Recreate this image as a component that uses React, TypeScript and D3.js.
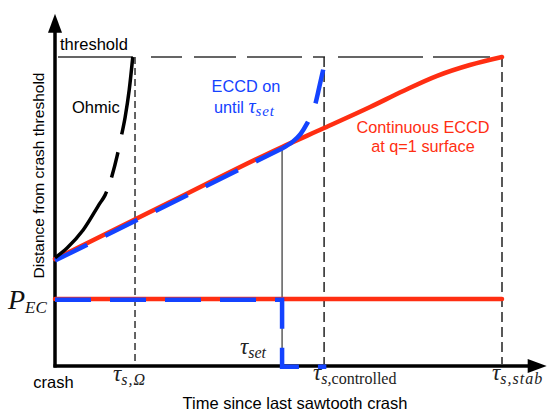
import React from "react";
import * as d3 from "d3";

const W = 549;
const H = 412;

// time axis in units of tau_s,stab, distance axis in units of the threshold
const tauOmega = 0.179;
const tauSet = 0.508;
const tauControlled = 0.602;
const tauStab = 1.0;
const threshold = 1.0;
const pEC = 0.217;

// Ohmic heating only
const ohmicT = [0, 0.027, 0.063, 0.101, 0.112, 0.128, 0.139, 0.148, 0.157, 0.166, 0.174];
const ohmicD = [0.35, 0.382, 0.44, 0.528, 0.553, 0.618, 0.68, 0.741, 0.806, 0.893, 1.0];

// continuous ECCD at q=1 surface
const contT = [0, 0.254, 0.508, 0.602, 0.705, 0.779, 0.855, 0.928, 1.0];
const contD = [0.346, 0.528, 0.709, 0.77, 0.838, 0.89, 0.939, 0.974, 1.0];

// ECCD on until tau_set
const eccdT = [0, 0.508];
const eccdD = [0.346, 0.709];
const eccdOffT = [0.508, 0.532, 0.55, 0.564, 0.575, 0.582, 0.591, 0.6];
const eccdOffD = [0.709, 0.731, 0.757, 0.79, 0.822, 0.851, 0.906, 0.964];

// EC power traces
const powerContT = [0, 1.0];
const powerContP = [pEC, pEC];
const powerSetT = [0, tauSet, tauSet, 0.607];
const powerSetP = [pEC, pEC, 0, 0];

const RED = "#ff2e12";
const BLUE = "#1443ff";
const SANS = "'Liberation Sans', Arial, sans-serif";
const SERIF = "'Liberation Serif', 'Times New Roman', serif";

const zip = (a: number[], b: number[]) => a.map((v, i) => [v, b[i]] as [number, number]);

const App = () => {
  const x = d3.scaleLinear().domain([0, 1.1]).range([55, 546.7]);
  const y = d3.scaleLinear().domain([0, 1.14]).range([366, 13.74]);

  const smooth = d3
    .line<[number, number]>()
    .x((d) => x(d[0]))
    .y((d) => y(d[1]))
    .curve(d3.curveMonotoneX);
  const straight = d3
    .line<[number, number]>()
    .x((d) => x(d[0]))
    .y((d) => y(d[1]));

  const x0 = x(0);
  const y0 = y(0);
  const yTop = y(1.14);
  const xEnd = x(1.1);

  const tau = (
    px: number,
    py: number,
    sub: React.ReactNode,
    color = "#222"
  ) => (
    <text x={px} y={py} fill={color} fontFamily={SERIF}>
      <tspan fontStyle="italic" fontSize={23}>τ</tspan>
      <tspan fontSize={16} dy={4}>{sub}</tspan>
    </text>
  );

  return (
    <svg
      width={W}
      height={H}
      style={{ position: "absolute", left: 0, top: 0, background: "#fff" }}
    >
      {/* axes */}
      <line x1={x0} x2={x0} y1={y0 + 1.5} y2={yTop + 16} stroke="#000" strokeWidth={3.5} />
      <polygon points={`${x0},${yTop} ${x0 - 7},${yTop + 19} ${x0 + 7},${yTop + 19}`} fill="#000" />
      <line x1={x0 - 1.5} x2={xEnd - 16} y1={y0} y2={y0} stroke="#000" strokeWidth={3.5} />
      <polygon points={`${xEnd},${y0} ${xEnd - 19},${y0 - 7} ${xEnd - 19},${y0 + 7}`} fill="#000" />

      {/* threshold */}
      <line
        x1={x0 + 3}
        x2={x(tauStab)}
        y1={y(threshold)}
        y2={y(threshold)}
        stroke="#333"
        strokeWidth={1.5}
        strokeDasharray="75,18,31,12,42,11,55,11,12,13,85,10,57,12"
      />
      {/* characteristic times */}
      <line x1={x(tauOmega)} x2={x(tauOmega)} y1={y(threshold)} y2={y0 - 2}
        stroke="#222" strokeWidth={1.4} strokeDasharray="7,4" />
      <line x1={x(tauControlled)} x2={x(tauControlled)} y1={y(threshold)} y2={y0 - 2}
        stroke="#222" strokeWidth={1.5} strokeDasharray="10,5" />
      <line x1={x(tauStab)} x2={x(tauStab)} y1={y(threshold)} y2={y0 - 2}
        stroke="#222" strokeWidth={1.5} strokeDasharray="10,5" />
      <line x1={x(tauSet)} x2={x(tauSet)} y1={y(eccdD[1])} y2={y0}
        stroke="#333" strokeWidth={1.2} />

      {/* continuous ECCD */}
      <path d={smooth(zip(contT, contD)) ?? ""} fill="none" stroke={RED}
        strokeWidth={4.5} strokeLinecap="round" />
      <path d={straight(zip(powerContT, powerContP)) ?? ""} fill="none" stroke={RED}
        strokeWidth={4.5} strokeLinecap="round" />

      {/* ECCD until tau_set */}
      <g transform="translate(0,1.5)">
        <path d={straight(zip(eccdT, eccdD)) ?? ""} fill="none" stroke={BLUE}
          strokeWidth={4.5} strokeDasharray="36,20" />
        <path d={smooth(zip(eccdOffT, eccdOffD)) ?? ""} fill="none" stroke={BLUE}
          strokeWidth={4.5} strokeDasharray="38,20" />
      </g>
      <g transform="translate(0,0.8)">
        <path d={straight(zip(powerSetT, powerSetP)) ?? ""} fill="none" stroke={BLUE}
          strokeWidth={4.5} strokeDasharray="36,19" />
      </g>

      {/* Ohmic */}
      <path d={smooth(zip(ohmicT, ohmicD)) ?? ""} fill="none" stroke="#000"
        strokeWidth={3.5} strokeDasharray="85,15,26,18,200" />

      {/* labels */}
      <text x={60} y={50} fontFamily={SANS} fontSize={16.5} fill="#000">threshold</text>
      <text x={72} y={113} fontFamily={SANS} fontSize={16.5} fill="#000">Ohmic</text>
      <text x={246} y={92} fontFamily={SANS} fontSize={16.3} fill={BLUE} textAnchor="middle">ECCD on</text>
      <text x={214} y={113} fill={BLUE}>
        <tspan fontFamily={SANS} fontSize={16.3}>until </tspan>
        <tspan fontFamily={SERIF} fontStyle="italic" fontSize={20}>τ</tspan>
        <tspan fontFamily={SERIF} fontStyle="italic" fontSize={15} dy={3} letterSpacing={0.8}>set</tspan>
      </text>
      <text x={423} y={133} fontFamily={SANS} fontSize={16.3} fill={RED} textAnchor="middle">Continuous ECCD</text>
      <text x={423} y={152} fontFamily={SANS} fontSize={16.3} fill={RED} textAnchor="middle">at q=1 surface</text>

      <text transform={`translate(44,175.5) rotate(-90)`} fontFamily={SANS} fontSize={15.5}
        textAnchor="middle" fill="#000">Distance from crash threshold</text>
      <text x={295} y={409} fontFamily={SANS} fontSize={16.5} textAnchor="middle" fill="#000">
        Time since last sawtooth crash
      </text>
      <text x={x0 - 1.5} y={388} fontFamily={SANS} fontSize={16.5} textAnchor="middle" fill="#000">crash</text>

      <text x={8} y={309} fill="#111" fontFamily={SERIF} fontStyle="italic">
        <tspan fontSize={28}>P</tspan>
        <tspan fontSize={17} dy={4}>EC</tspan>
      </text>

      {tau(x(tauOmega) - 22, 381, <tspan fontStyle="italic" letterSpacing={1}>s,Ω</tspan>)}
      {tau(x(tauControlled) - 11, 380, <>
        <tspan fontStyle="italic">s,</tspan>
        <tspan>controlled</tspan>
      </>)}
      {tau(x(tauStab) - 10, 380, <tspan fontStyle="italic" letterSpacing={1}>s,stab</tspan>)}
      {tau(240, 354, <tspan fontStyle="italic">set</tspan>)}
    </svg>
  );
};

export default App;
